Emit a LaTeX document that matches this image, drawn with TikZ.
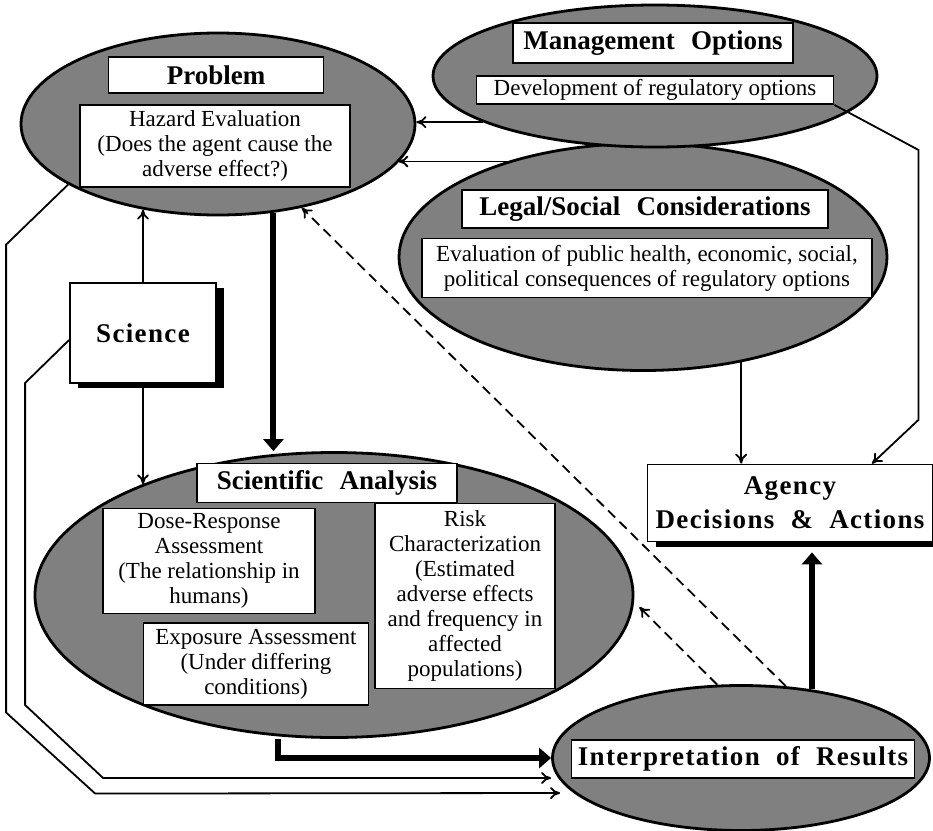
\documentclass[tikz,border=0pt]{standalone}
\usepackage{fontspec}
\setmainfont{Liberation Serif}
\newfontfamily\widefont{Liberation Serif}[LetterSpace=5]
\usetikzlibrary{arrows.meta,shapes.geometric,shadows}
\newcommand{\wsp}{\hspace{.6em}}
\tikzset{>={To[length=5pt,width=6pt]},blob/.style={ellipse,draw,line width=1.4pt,fill=black!50,inner sep=0pt},
box/.style={draw,fill=white,line width=.9pt,inner sep=0pt,align=center,font=\fontsize{11.5}{12.5}\selectfont},
head/.style={box,font=\fontsize{13.5}{15}\selectfont\bfseries},widehead/.style={box,font=\widefont\fontsize{13.5}{17}\selectfont\bfseries},
shade/.style={drop shadow={shadow xshift=4pt,shadow yshift=-2.5pt,fill=black,opacity=1}},
flow/.style={line width=.9pt,->},bigflow/.style={line width=3pt,-{Triangle[length=6pt,width=10pt]}},hint/.style={flow,dash pattern=on 5pt off 3pt}}

\begin{document}
\begin{tikzpicture}[x=.5pt,y=-.5pt]
\useasboundingbox (0,0) rectangle (933,831);
% ellipses (positions in pixels of the scan)
\node[blob,minimum width=197pt,minimum height=91pt] (prob) at (218,124) {};
\node[blob,minimum width=244pt,minimum height=113.5pt] (legal) at (643,257) {};
\node[blob,minimum width=222pt,minimum height=71pt] (mgmt) at (655,76) {};
\node[blob,minimum width=299pt,minimum height=142.5pt] (anal) at (334,595) {};
\node[blob,minimum width=188.5pt,minimum height=72.5pt] (interp) at (741,758) {};
\node[head,minimum width=107.5pt,minimum height=18pt] (probT) at (216,75) {Problem};
\node[box,minimum width=135pt,minimum height=41pt] (hazard) at (215,146) {Hazard Evaluation\\(Does the agent cause the\\adverse effect?)};
\node[head,minimum width=140pt,minimum height=20pt] (mgmtT) at (653,43) {Management\wsp Options};
\node[box,minimum width=178.5pt,minimum height=14pt] (devel) at (655,90) {Development of regulatory options};
\node[head,minimum width=183pt,minimum height=19pt] (legalT) at (645,209) {Legal/Social\wsp Considerations};
\node[box,minimum width=225pt,minimum height=29.5pt] (evalb) at (647,268) {Evaluation of public health, economic, social,\\political consequences of regulatory options};
\node[widehead,shade,minimum width=73pt,minimum height=50pt] (science) at (143,333) {Science};
\node[head,minimum width=130pt,minimum height=19.5pt] (analT) at (327,483) {Scientific\wsp Analysis};
\node[box,minimum width=106pt,minimum height=52.5pt] (dose) at (209,561) {Dose-Response\\Assessment\\(The relationship in\\humans)};
\node[box,minimum width=112.5pt,minimum height=41pt] (expo) at (256,664) {Exposure Assessment\\(Under differing\\conditions)};
\node[box,minimum width=90pt,minimum height=92.5pt] (risk) at (465,596) {Risk\\Characterization\\(Estimated\\adverse effects\\and frequency in\\affected\\populations)};
\node[widehead,minimum width=171.5pt,minimum height=19pt] (interpT) at (743,759) {Interpretation\wsp of\wsp Results};
\node[widehead,shade,minimum width=142.5pt,minimum height=38.5pt] (agency) at (790,503) {Agency\\Decisions\wsp\&\wsp Actions};
\draw[flow] (mgmt.195) -- (mgmt.195 -| prob.east);\draw[flow] (legal.145) -- (legal.145 -| prob.-12);
\draw[flow] (legal.-47) -- (legal.-47 |- agency.north);
\draw[flow] (devel.south east) -- ++(84,45) -- ++(0,270) -- ([xshift=41pt]agency.north);
\draw[flow] (science.north) -- (science.north |- prob.229);\draw[flow] (science.south) -- (science.south |- anal.150);
\draw[bigflow] (prob.-58) -- (prob.-58 |- anal.north);\draw[bigflow] ([xshift=-28pt]anal.south) |- (interp.west);
\draw[flow] (prob.202) -- ++(-62,60) -- ++(0,468) -- ++(89,81) -- ([xshift=4.5pt,yshift=-17.5pt]interp.west);
\draw[flow] ([yshift=-3.5pt]science.west) -- ++(-44,43) -- ++(0,322) -- ++(78,73) -- ([yshift=-10pt]interp.west);
\draw[bigflow,shorten >=5pt] (interp.44) -- (interp.44 |- agency.south);
\draw[hint] (interp.58) -- (prob.-45);\draw[hint] (interp.108) -- ([shift={(2.5pt,-6pt)}]anal.east);
\end{tikzpicture}
\end{document}
